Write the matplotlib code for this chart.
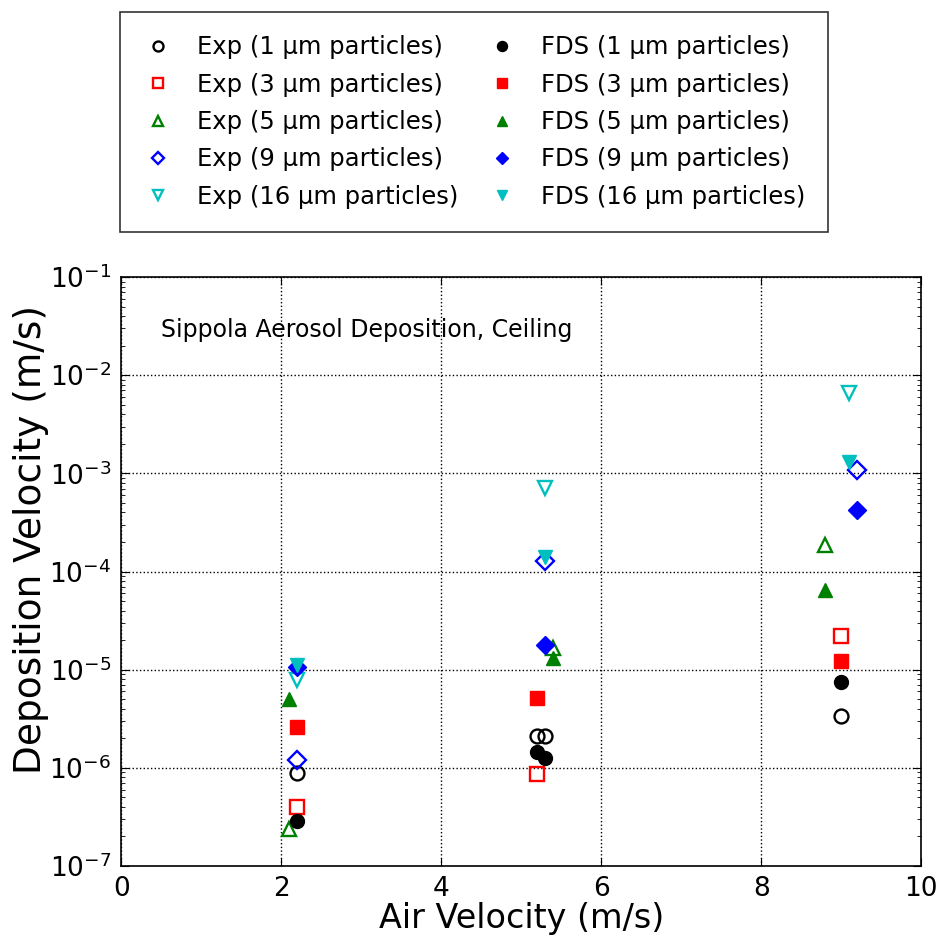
import matplotlib
matplotlib.use("Agg")
import matplotlib.pyplot as plt

# Sippola ceiling deposition data
exp_x = {
    "1": [2.2, 5.2, 5.3, 9.0],
    "3": [2.2, 5.2, 9.0],
    "5": [2.1, 5.4, 8.8],
    "9": [2.2, 5.3, 9.2],
    "16": [2.2, 5.3, 9.1],
}
exp_y = {
    "1": [8.9e-7, 2.1e-6, 2.1e-6, 3.4e-6],
    "3": [4.0e-7, 8.7e-7, 2.2e-5],
    "5": [2.4e-7, 1.66e-5, 1.86e-4],
    "9": [1.2e-6, 1.29e-4, 1.08e-3],
    "16": [7.9e-6, 7.1e-4, 6.6e-3],
}
fds_x = {
    "1": [2.2, 5.2, 5.3, 9.0],
    "3": [2.2, 5.2, 9.0],
    "5": [2.1, 5.4, 8.8],
    "9": [2.2, 5.3, 9.2],
    "16": [2.2, 5.3, 9.1],
}
fds_y = {
    "1": [2.9e-7, 1.45e-6, 1.26e-6, 7.5e-6],
    "3": [2.6e-6, 5.1e-6, 1.23e-5],
    "5": [5.0e-6, 1.32e-5, 6.5e-5],
    "9": [1.07e-5, 1.78e-5, 4.2e-4],
    "16": [1.12e-5, 1.4e-4, 1.3e-3],
}

sizes = ["1", "3", "5", "9", "16"]
markers = {"1": "o", "3": "s", "5": "^", "9": "D", "16": "v"}
colors = {"1": "k", "3": "r", "5": "g", "9": "b", "16": "c"}

fig = plt.figure(figsize=(9.39, 9.43), dpi=100)
ax = fig.add_axes([0.129, 0.0817, 0.852, 0.6245])

handles = []
for s in sizes:
    h, = ax.plot(exp_x[s], exp_y[s], linestyle="none", marker=markers[s],
                 markersize=10 if markers[s] != "D" else 9,
                 markerfacecolor="none", markeredgecolor=colors[s],
                 markeredgewidth=1.7, label=f"Exp ({s} μm particles)")
    handles.append(h)
for s in sizes:
    h, = ax.plot(fds_x[s], fds_y[s], linestyle="none", marker=markers[s],
                 markersize=10 if markers[s] != "D" else 9,
                 color=colors[s], markeredgecolor=colors[s],
                 label=f"FDS ({s} μm particles)")
    handles.append(h)

ax.set_yscale("log")
ax.set_xlim(0, 10)
ax.set_ylim(1e-7, 1e-1)
ax.set_xticks([0, 2, 4, 6, 8, 10])
ax.grid(True, which="major", color="k", linestyle=":", linewidth=1)
ax.tick_params(which="both", direction="in", top=True, right=True, labelsize=19)
ax.tick_params(which="major", length=6, pad=7)
ax.tick_params(which="minor", length=3)
for sp in ax.spines.values():
    sp.set_linewidth(1.2)

ax.set_xlabel("Air Velocity (m/s)", fontsize=24, labelpad=0)
ax.set_ylabel("Deposition Velocity (m/s)", fontsize=27)
ax.yaxis.set_label_coords(-0.09, 0.555)
ax.text(0.05, 0.93, "Sippola Aerosol Deposition, Ceiling", transform=ax.transAxes,
        fontsize=17, va="top")

leg = fig.legend(handles=handles, ncol=2, loc="upper left",
                 bbox_to_anchor=(0.128, 0.987), fontsize=17.5, numpoints=1,
                 markerscale=0.72, fancybox=False, frameon=True,
                 borderpad=0.95, labelspacing=0.55, columnspacing=1.2,
                 handlelength=1.2, handletextpad=1.0, borderaxespad=0)
leg.get_frame().set_edgecolor("k")
leg.get_frame().set_linewidth(1.2)

fig.savefig("out.png", dpi=100)
